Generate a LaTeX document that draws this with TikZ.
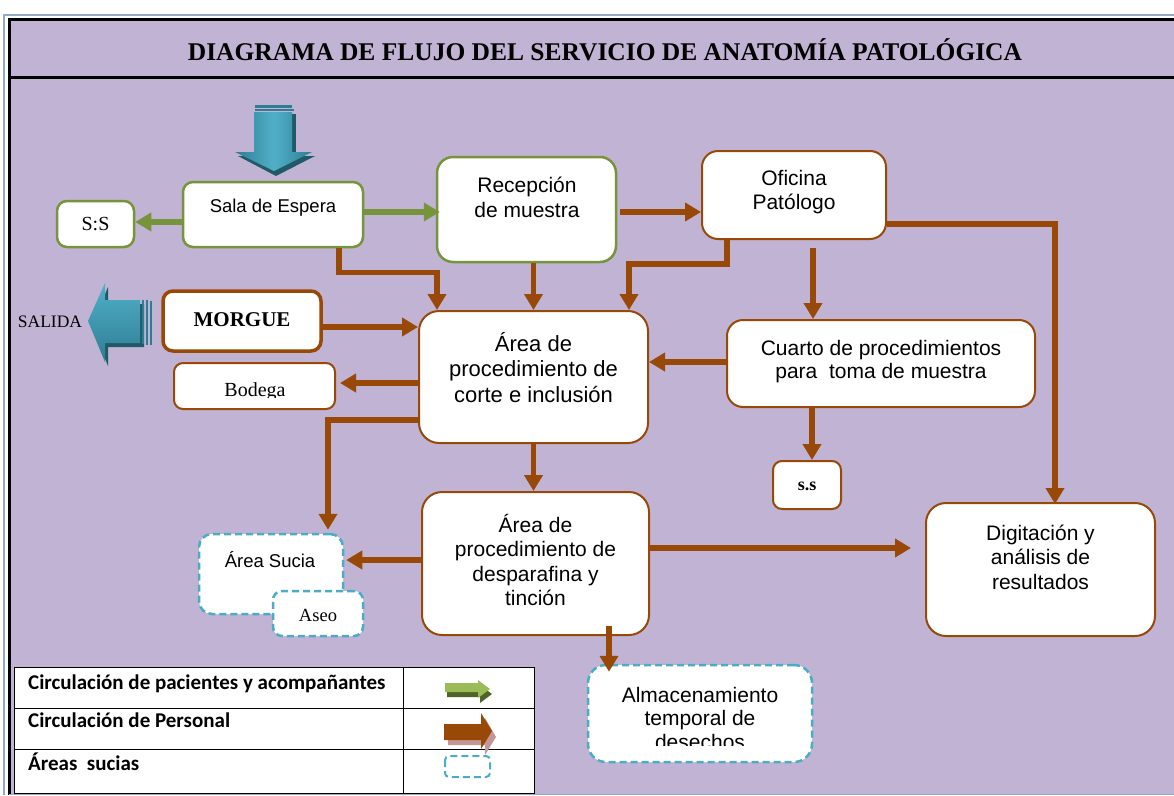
\documentclass[tikz,border=0pt]{standalone}
\usepackage{graphicx}
\usepackage{fontspec}
\setmainfont{Liberation Serif}
\newfontfamily\arialf{Liberation Sans}
\newfontfamily\calibf{Carlito}
\usetikzlibrary{arrows.meta}
\definecolor{bgpurple}{RGB}{193,179,211}
\definecolor{gborder}{RGB}{119,147,60}
\definecolor{brownc}{RGB}{152,72,7}
\definecolor{cyanc}{RGB}{75,172,198}
\definecolor{tealA}{RGB}{46,125,147}
\definecolor{tealB}{RGB}{80,176,200}
\definecolor{tealD}{RGB}{33,89,104}
\definecolor{lgreen}{RGB}{155,187,89}
\definecolor{dgreen}{RGB}{79,98,40}
\definecolor{pinkshadow}{RGB}{196,150,150}
\definecolor{edgeblue}{RGB}{150,170,200}
\begin{document}
\begin{tikzpicture}[x=1pt,y=-1pt,
  gbox/.style={draw=gborder, line width=2.5pt, fill=white, rounded corners=10pt, inner sep=0pt},
  bbox/.style={draw=brownc, line width=2pt, fill=white, rounded corners=16pt, inner sep=0pt},
  dbox/.style={draw=cyanc, line width=2.5pt, dash pattern=on 7pt off 4pt, fill=white, rounded corners=13pt, inner sep=0pt},
  sanstxt/.style={font=\arialf\fontsize{21}{24.5}\selectfont, align=center, inner sep=0pt},
  sanssmall/.style={font=\arialf\fontsize{18.5}{22}\selectfont, align=center, inner sep=0pt},
  seriftxt/.style={font=\fontsize{20}{24}\selectfont, inner sep=0pt},
  legtxt/.style={font=\calibf\bfseries\fontsize{21}{24}\selectfont, inner sep=0pt, anchor=north west},
  barrow/.style={draw=brownc, line width=5.5pt, -{Triangle[width=18pt,length=16pt]}},
  garrow/.style={draw=gborder, line width=6pt, -{Triangle[width=18pt,length=16pt]}},
]
\useasboundingbox (0,0) rectangle (1174,795);
% background
\fill[white] (0,0) rectangle (1174,795);
\fill[bgpurple] (9,19) rectangle (1174,795);
\draw[edgeblue, line width=1.2pt] (4,795) -- (4,15) -- (1174,15);
\draw[black, line width=3pt] (9,795) -- (9,19) -- (1174,19);
\draw[black, line width=3pt] (9,77) -- (1174,77);
\draw[edgeblue, line width=1pt] (9,794.5) -- (1174,794.5);
% title
\node[inner sep=0pt] (title) at (605,50) {\resizebox{834pt}{!}{\bfseries DIAGRAMA DE FLUJO DEL SERVICIO DE ANATOMÍA PATOLÓGICA}};

% entrance arrow (down)
\fill[tealD] (258,114) rectangle (296,156);
\fill[tealD] (238,156) -- (315,156) -- (276,176) -- cycle;
\shade[left color=tealA, right color=tealA, middle color=tealB]
  (254,112) -- (292,112) -- (292,152) -- (312,152) -- (274,171) -- (235,152) -- (254,152) -- cycle;
\fill[tealA] (255,105) rectangle (292,107.5);
\fill[tealA] (255,109) rectangle (294,111);

% exit arrow (left)
\fill[tealD] (92,325) -- (108,287) -- (108,304) -- (144,304) -- (144,347) -- (108,347) -- (108,366) -- cycle;
\shade[top color=tealB, bottom color=tealA]
  (88,321) -- (105,283) -- (105,300) -- (140,300) -- (140,343) -- (105,343) -- (105,362) -- cycle;
\fill[tealA] (141.5,300) rectangle (144,344);
\fill[tealA] (145.5,300) rectangle (148,345);
\fill[tealA] (149.5,301) rectangle (152,345);
\node[seriftxt, font=\fontsize{17.5}{20}\selectfont] (salida) at (50,322) {SALIDA};

% boxes
\node[gbox, minimum width=180pt, minimum height=65pt] (sala) at (273,214.5) {};
\node[sanssmall] (salat) at (273,208) {Sala de Espera};
\node[gbox, minimum width=77pt, minimum height=46pt] (ss1) at (95.5,224) {};
\node[seriftxt] (ss1t) at (95.5,224) {S:S};
\node[gbox, minimum width=179pt, minimum height=105pt, rounded corners=16pt] (recep) at (526.5,209.5) {};
\node[sanstxt] (recept) at (527,197.5) {Recepción\\de muestra};
\node[bbox, minimum width=184pt, minimum height=88pt] (oficina) at (794,195) {};
\node[sanstxt] (oficinat) at (794,192) {Oficina\\Patólogo};
\node[bbox, minimum width=229pt, minimum height=132pt, rounded corners=20pt] (corte) at (533.5,377) {};
\node[sanstxt, font=\arialf\fontsize{22}{25.5}\selectfont] (cortet) at (533.5,367.5) {Área de\\procedimiento de\\corte e inclusión};
\node[bbox, line width=3.5pt, minimum width=158pt, minimum height=60pt, rounded corners=10pt] (morgue) at (242,321) {};
\node[seriftxt, font=\bfseries\fontsize{21}{24}\selectfont] (morguet) at (242,320) {MORGUE};
\node[bbox, minimum width=161pt, minimum height=46pt, rounded corners=9pt] (bodega) at (254.5,386) {};
\begin{scope}
\clip (174,363) rectangle (335,397);
\node[seriftxt, anchor=base] (bodegat) at (255,396) {Bodega};
\end{scope}
\node[bbox, minimum width=308pt, minimum height=87pt] (cuarto) at (881,363.5) {};
\node[sanstxt, font=\arialf\fontsize{21}{23}\selectfont] (cuartot) at (881,361.5) {Cuarto de procedimientos\\para\ \ toma de muestra};
\node[bbox, minimum width=68pt, minimum height=48pt, rounded corners=9pt] (ss2) at (807,485) {};
\node[seriftxt, font=\bfseries\fontsize{18}{22}\selectfont] (ss2t) at (807,486) {s.s};
\node[bbox, minimum width=227pt, minimum height=143pt, rounded corners=20pt] (despar) at (535.5,563.5) {};
\node[sanstxt] (despart) at (535.5,560) {Área de\\procedimiento de\\desparafina y\\tinción};
\node[bbox, minimum width=229pt, minimum height=133pt, rounded corners=20pt] (digit) at (1040.5,569.5) {};
\node[sanstxt] (digitt) at (1040.5,557) {Digitación y\\análisis de\\resultados};
\node[dbox, minimum width=144pt, minimum height=80pt] (sucia) at (271,574) {};
\node[sanssmall] (suciat) at (270,560) {Área Sucia};
\node[dbox, minimum width=90pt, minimum height=45pt, rounded corners=9pt] (aseo) at (318,613.5) {};
\node[seriftxt, font=\fontsize{18.5}{22}\selectfont] (aseot) at (318,615) {Aseo};
\node[dbox, minimum width=224pt, minimum height=97pt, rounded corners=18pt] (almac) at (700,713.5) {};
\begin{scope}
\clip (590,667) rectangle (810,745);
\node[sanstxt, font=\arialf\fontsize{21}{23.5}\selectfont, anchor=north] (almact) at (700,687) {Almacenamiento\\temporal de\\desechos};
\end{scope}

% helper coordinates
\coordinate (ss2top) at ([xshift=5pt]ss2.north);
\coordinate (almtop) at ([xshift=-91pt,yshift=-8pt]almac.north);

% green connectors
\draw[garrow] ([yshift=-7.5pt]sala.west) -- ([yshift=-7.5pt]sala.west -| ss1.east);
\draw[garrow] ([yshift=2.5pt]sala.east) -- ([xshift=4pt,yshift=2.5pt]sala.east -| recep.west);

% brown connectors
\draw[barrow] ([xshift=3pt,yshift=-2.5pt]recep.east) -- ([yshift=-2.5pt]recep.east -| oficina.west);
\draw[barrow] ([xshift=66pt]sala.south) -- ++(0,24) -| ([xshift=-96.5pt]corte.north);
\draw[barrow] (recep.south -| corte.north) -- (corte.north);
\draw[barrow] ([xshift=-67pt]oficina.south) -- ++(0,24) -| ([xshift=95.5pt]corte.north);
\draw[barrow] ([yshift=-6pt]morgue.east) -- ([yshift=-6pt]morgue.east -| corte.west);
\draw[barrow] ([yshift=-6pt]corte.west) -- ([xshift=4pt,yshift=-6pt]corte.west -| bodega.east);
\draw[barrow] ([yshift=-43pt]corte.west) -| ([xshift=57pt,yshift=3pt]sucia.north);
\draw[barrow] ([yshift=1.5pt]cuarto.west) -- ([yshift=1.5pt]cuarto.west -| corte.east);
\draw[barrow] ([xshift=19pt,yshift=-8pt]oficina.south) -- ([xshift=19pt]oficina.south |- cuarto.north);
\draw[barrow] ([yshift=-29pt]oficina.east) -| ([xshift=14.5pt,yshift=-2pt]digit.north);
\draw[barrow] (ss2top |- cuarto.south) -- (ss2top);
\draw[barrow] (corte.south) -- (corte.south |- despar.north);
\draw[barrow] ([yshift=3.5pt]despar.west) -- ([xshift=2pt,yshift=3.5pt]despar.west -| sucia.east);
\draw[barrow] ([yshift=15.5pt]despar.east) -- ([xshift=-14pt,yshift=15.5pt]despar.east -| digit.west);
\draw[barrow] ([xshift=73.5pt,yshift=10pt]despar.south) -- (almtop);

% legend
\fill[white] (14,667) rectangle (534,793);
\draw[black, line width=1pt] (14,667) rectangle (534,793);
\draw[black, line width=1pt] (14,708) -- (534,708);
\draw[black, line width=1pt] (14,749) -- (534,749);
\draw[black, line width=1pt] (403,667) -- (403,793);
\node[legtxt] (leg1) at (28,675) {Circulación de pacientes y acompañantes};
\node[legtxt] (leg2) at (28,713) {Circulación de Personal};
\node[legtxt] (leg3) at (28,753) {Áreas\ \ sucias};
% legend icons
\fill[dgreen] (447,688) -- (480,688) -- (480,685) -- (492,694) -- (480,703) -- (480,697) -- (447,697) -- cycle;
\fill[lgreen] (445,683) -- (478,683) -- (478,680) -- (490,689) -- (478,698) -- (478,692) -- (445,692) -- cycle;
\fill[pinkshadow] (448,729) -- (485,729) -- (485,718) -- (496,737) -- (485,755) -- (485,745) -- (448,745) -- cycle;
\fill[brownc] (444,724) -- (481,724) -- (481,713) -- (492,731) -- (481,749) -- (481,740) -- (444,740) -- cycle;
\draw[cyanc, line width=2pt, dash pattern=on 7pt off 4pt, rounded corners=4pt] (445,756) rectangle (490,777);
\end{tikzpicture}
\end{document}
